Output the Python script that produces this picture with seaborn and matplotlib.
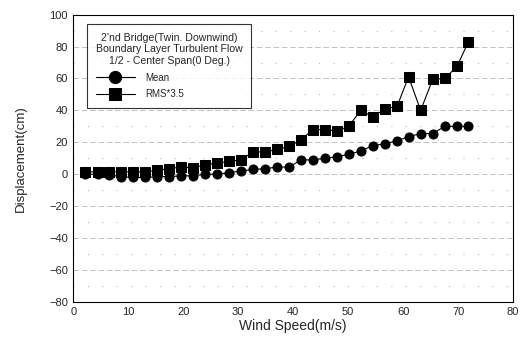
import numpy as np
import pandas as pd
import matplotlib
matplotlib.use("Agg")
import matplotlib.pyplot as plt
import seaborn as sns
from matplotlib.ticker import MultipleLocator

wind_speed = [2.2, 4.4, 6.5, 8.7, 10.9, 13.1, 15.3, 17.4, 19.6, 21.8, 24.0, 26.2,
              28.3, 30.5, 32.7, 34.9, 37.1, 39.3, 41.4, 43.6, 45.8, 48.0, 50.1,
              52.3, 54.5, 56.7, 58.9, 61.0, 63.2, 65.4, 67.6, 69.8, 71.9]
mean_disp = [0, 0, -0.5, -1.5, -2, -2, -1.5, -1.5, -1, -1, 0, 0,
             1, 2, 3, 3.5, 4.5, 4.5, 9, 9, 10, 11, 12.5,
             14.5, 18, 19, 21, 23.5, 25.5, 25.5, 30, 30, 30]
rms_disp = [1.5, 1.5, 1.5, 1.5, 1.5, 1.5, 2.5, 3.5, 4.5, 4, 6, 7,
            8, 9, 14, 14, 15.5, 17.5, 21.5, 28, 28, 27, 30,
            40, 36, 41, 42.5, 61, 40, 59.5, 60, 67.5, 83]
series_names = ["Mean", "RMS*3.5"]
legend_title = "2'nd Bridge(Twin. Downwind)\nBoundary Layer Turbulent Flow\n1/2 - Center Span(0 Deg.)"

df = pd.concat([
    pd.DataFrame({"x": wind_speed, "y": mean_disp, "s": series_names[0]}),
    pd.DataFrame({"x": wind_speed, "y": rms_disp, "s": series_names[1]}),
])

sns.set_style("white")
plt.rcParams["font.family"] = ["Liberation Sans", "DejaVu Sans"]

fig = plt.figure(figsize=(5.24, 3.40), dpi=100)
ax = fig.add_axes([0.140, 0.112, 0.839, 0.845])

sns.lineplot(data=df, x="x", y="y", hue="s", style="s",
             palette=["black", "black"], markers=["o", "s"], dashes=False,
             markersize=6.5, linewidth=0.8, markeredgecolor="black",
             ax=ax, legend=True)

ax.set_xlim(0, 80)
ax.set_ylim(-80, 100)
ax.xaxis.set_major_locator(MultipleLocator(10))
ax.yaxis.set_major_locator(MultipleLocator(20))
ax.yaxis.set_minor_locator(MultipleLocator(10))
ax.grid(True, which="major", axis="y", color="#aaaaaa", linestyle=(0, (8, 4)), linewidth=0.5)
ax.grid(True, which="minor", axis="y", color="#bbbbbb", linestyle=(0, (1, 12)), linewidth=0.8)
ax.set_axisbelow(True)
for sp in ax.spines.values():
    sp.set_color("black")
    sp.set_linewidth(0.8)
ax.tick_params(axis="both", which="major", labelsize=8, length=0, pad=4)
ax.tick_params(axis="y", which="minor", length=0)
ax.set_xlabel("Wind Speed(m/s)", fontsize=10, labelpad=1)
ax.set_ylabel("Displacement(cm)", fontsize=9.5, labelpad=16)

handles, labels = ax.get_legend_handles_labels()
leg = ax.legend(handles, labels, title=legend_title, loc="upper left",
                bbox_to_anchor=(0.02, 0.985), fontsize=7, title_fontsize=7.6,
                frameon=True, fancybox=False, edgecolor="black", markerscale=1.35,
                handlelength=4.0, borderpad=0.9, labelspacing=0.7, handletextpad=1.1)
leg.get_frame().set_linewidth(0.8)
leg.get_title().set_multialignment("center")
leg._legend_box.align = "left"
leg.get_title().set_horizontalalignment("center")

fig.savefig("out.png", dpi=100)
